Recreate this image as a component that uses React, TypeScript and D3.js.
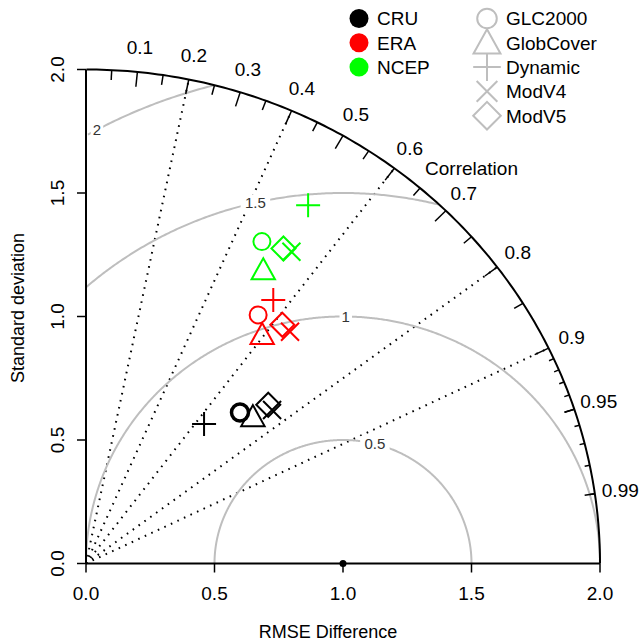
import React from "react";
import * as d3 from "d3";

const WIDTH = 642;
const HEIGHT = 644;

// datasets (colour) and land cover products (symbol)
const datasets = ["CRU", "ERA", "NCEP"];
const datasetColors = ["#000000", "#FF0000", "#00FF00"];
const products = ["GLC2000", "GlobCover", "Dynamic", "ModV4", "ModV5"];
const productShapes = ["circle", "triangle", "plus", "cross", "diamond"];

// standard deviation and correlation of each product, per dataset
const sdCRU = [0.856, 0.88, 0.728, 0.954, 0.957];
const corCRU = [0.7, 0.738, 0.631, 0.759, 0.741];
const sdERA = [1.209, 1.152, 1.292, 1.229, 1.232];
const corERA = [0.554, 0.595, 0.564, 0.646, 0.62];
const sdNCEP = [1.472, 1.374, 1.688, 1.494, 1.489];
const corNCEP = [0.465, 0.502, 0.512, 0.535, 0.516];

const refSd = 1;
const maxSd = 2;
const sdTicks = [0, 0.5, 1, 1.5, 2];
const corLabels = [0.1, 0.2, 0.3, 0.4, 0.5, 0.6, 0.7, 0.8, 0.9, 0.95, 0.99];
const corMedTicks = [0.05, 0.15, 0.25, 0.35, 0.45, 0.55, 0.65, 0.75, 0.85, 0.95];
const corTinyTicks = [0.91, 0.92, 0.93, 0.94, 0.96, 0.97, 0.98, 0.99];
const corLines = [0.2, 0.4, 0.6, 0.8, 0.9];
const rmsLevels = [0.5, 1, 1.5, 2];

const FONT = "'Liberation Sans', Arial, sans-serif";
const GRAY = "#BEBEBE";

const x = d3.scaleLinear().domain([0, maxSd]).range([86, 600]);
const y = d3.scaleLinear().domain([0, maxSd]).range([563.5, 69.5]);

const line = d3
  .line<[number, number]>()
  .x((d) => x(d[0]))
  .y((d) => y(d[1]));

function polar(r: number, cor: number): [number, number] {
  const a = Math.acos(cor);
  return [r * Math.cos(a), r * Math.sin(a)];
}

function Marker({ shape, cx, cy, color, k = 1, sw = 2 }: any) {
  const common = { fill: "none", stroke: color, strokeWidth: sw };
  if (shape === "circle") return <circle cx={cx} cy={cy} r={8.5 * k} {...common} />;
  if (shape === "triangle") {
    const p = [
      [cx, cy - 11.7 * k],
      [cx + 11.7 * k, cy + 9.3 * k],
      [cx - 11.7 * k, cy + 9.3 * k],
    ];
    return <polygon points={p.map((q) => q.join(",")).join(" ")} {...common} />;
  }
  if (shape === "plus") {
    const s = 12 * k;
    return <path d={`M${cx - s},${cy}H${cx + s}M${cx},${cy - s}V${cy + s}`} {...common} />;
  }
  if (shape === "cross") {
    const s = 9 * k;
    return (
      <path d={`M${cx - s},${cy - s}L${cx + s},${cy + s}M${cx - s},${cy + s}L${cx + s},${cy - s}`} {...common} />
    );
  }
  const s = 12 * k;
  return <path d={`M${cx},${cy - s}L${cx + s},${cy}L${cx},${cy + s}L${cx - s},${cy}Z`} {...common} />;
}

export default function App() {
  const series = [
    { sd: sdCRU, cor: corCRU },
    { sd: sdERA, cor: corERA },
    { sd: sdNCEP, cor: corNCEP },
  ];

  // outer arc
  const outer = d3.range(0, Math.PI / 2 + 0.001, 0.01).map((a) => [maxSd * Math.cos(a), maxSd * Math.sin(a)] as [number, number]);

  // centred RMS arcs, kept inside the quarter circle
  const arcs = rmsLevels.map((g, gi) => {
    const pts = d3
      .range(0, Math.PI, 0.005)
      .map((a) => [refSd + g * Math.cos(a), g * Math.sin(a)] as [number, number])
      .filter((p) => p[0] >= 0 && p[0] * p[0] + p[1] * p[1] <= maxSd * maxSd);
    const labelIdx = [45, 53, 61, 70][gi];
    const la = (labelIdx - 1) * 0.03;
    return { g, pts, lx: refSd + g * Math.cos(la), ly: g * Math.sin(la) };
  });

  return (
    <svg width={WIDTH} height={HEIGHT} style={{ position: "absolute", left: 0, top: 0, background: "#fff" }} fontFamily={FONT}>
      {/* correlation rays */}
      {corLines.map((c) => {
        const [ex, ey] = polar(maxSd, c);
        return (
          <line key={c} x1={x(0)} y1={y(0)} x2={x(ex)} y2={y(ey)} stroke="#000" strokeWidth={2} strokeDasharray="1.6 5.6" />
        );
      })}

      {/* RMS arcs */}
      {arcs.map((a) => (
        <path key={a.g} d={line(a.pts) || ""} fill="none" stroke={GRAY} strokeWidth={2} />
      ))}
      {arcs.map((a) => {
        const w = String(a.g).length * 8.5;
        return (
          <g key={"l" + a.g} transform={`translate(${x(a.lx)},${y(a.ly)})`}>
            <rect x={-w / 2 - 2} y={-8} width={w + 4} height={16} fill="#fff" />
            <text textAnchor="middle" dy="0.36em" fontSize={15} fill="#333">
              {a.g}
            </text>
          </g>
        );
      })}

      {/* axes */}
      <line x1={x(0)} y1={y(0)} x2={x(maxSd)} y2={y(0)} stroke="#000" strokeWidth={2} />
      <line x1={x(0)} y1={y(0)} x2={x(0)} y2={y(maxSd)} stroke="#000" strokeWidth={2} />
      <path d={line(outer) || ""} fill="none" stroke="#000" strokeWidth={2} />
      {sdTicks.map((t) => (
        <g key={"x" + t}>
          <line x1={x(t)} x2={x(t)} y1={y(0)} y2={y(0) + 9} stroke="#000" strokeWidth={1.5} />
          <text x={x(t)} y={600} textAnchor="middle" fontSize={19}>
            {t.toFixed(1)}
          </text>
          <line x1={x(0) - 9} x2={x(0)} y1={y(t)} y2={y(t)} stroke="#000" strokeWidth={1.5} />
          <text transform={`translate(63.5,${y(t)}) rotate(-90)`} textAnchor="middle" fontSize={19}>
            {t.toFixed(1)}
          </text>
        </g>
      ))}

      {/* correlation ticks and labels */}
      {corLabels.map((c) => {
        const big = c <= 0.9;
        const [ox, oy] = polar(maxSd, c);
        const [ix, iy] = polar(maxSd * (big ? 0.97 : 0.98), c);
        const [tx, ty] = polar(maxSd * 1.05, c);
        return (
          <g key={"c" + c}>
            <line x1={x(ox)} y1={y(oy)} x2={x(ix)} y2={y(iy)} stroke="#000" strokeWidth={1.5} />
            <text x={x(tx)} y={y(ty)} dy="0.36em" textAnchor="middle" fontSize={19}>
              {c}
            </text>
          </g>
        );
      })}
      {corMedTicks.map((c) => {
        const [ox, oy] = polar(maxSd, c);
        const [ix, iy] = polar(maxSd * 0.98, c);
        return <line key={"m" + c} x1={x(ox)} y1={y(oy)} x2={x(ix)} y2={y(iy)} stroke="#000" strokeWidth={1.5} />;
      })}
      {corTinyTicks.map((c) => {
        const [ox, oy] = polar(maxSd, c);
        const [ix, iy] = polar(maxSd * 0.99, c);
        return <line key={"t" + c} x1={x(ox)} y1={y(oy)} x2={x(ix)} y2={y(iy)} stroke="#000" strokeWidth={1.5} />;
      })}
      <text x={x(1.5)} y={y(1.6)} dy="0.36em" textAnchor="middle" fontSize={19}>
        Correlation
      </text>

      {/* reference point */}
      <circle cx={x(refSd)} cy={y(0)} r={3.5} fill="#000" />

      {/* model points */}
      {series.map((s, si) =>
        s.sd.map((sd, pi) => {
          const [px, py] = polar(sd, s.cor[pi]);
          return (
            <Marker
              key={si + "-" + pi}
              shape={productShapes[pi]}
              cx={x(px)}
              cy={y(py)}
              color={datasetColors[si]}
              sw={si === 0 && pi === 0 ? 3.5 : 2}
            />
          );
        })
      )}

      {/* legends */}
      {datasets.map((d, i) => (
        <g key={d}>
          <circle cx={359} cy={18.5 + i * 24.3} r={9.5} fill={datasetColors[i]} />
          <text x={377} y={18.5 + i * 24.3} dy="0.36em" fontSize={19}>
            {d}
          </text>
        </g>
      ))}
      {products.map((p, i) => (
        <g key={p}>
          <Marker shape={productShapes[i]} cx={487} cy={18.5 + i * 24.3} color={GRAY} k={1.15} sw={2} />
          <text x={506} y={18.5 + i * 24.3} dy="0.36em" fontSize={19}>
            {p}
          </text>
        </g>
      ))}

      {/* axis titles */}
      <text x={328} y={638} textAnchor="middle" fontSize={18}>
        RMSE Difference
      </text>
      <text transform={`translate(24,308) rotate(-90)`} textAnchor="middle" fontSize={18}>
        Standard deviation
      </text>
    </svg>
  );
}
